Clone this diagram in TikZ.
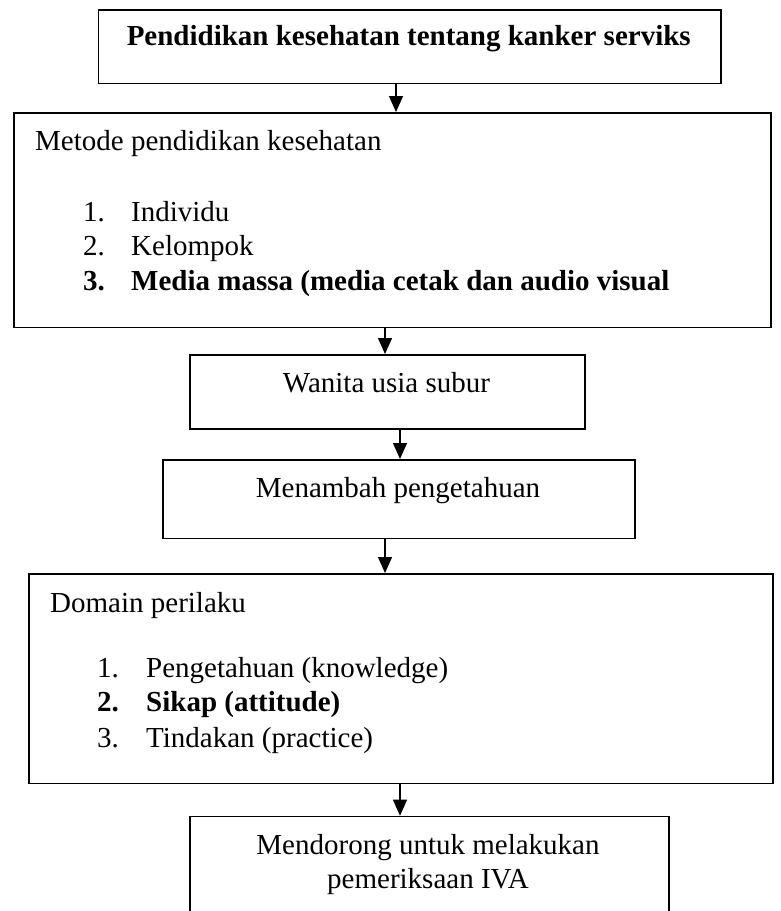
\documentclass[tikz,border=0pt]{standalone}
\usepackage{fontspec}
\setmainfont{Liberation Serif}
\usetikzlibrary{arrows.meta}
\newcommand\myfs{\fontsize{29}{33.5}\selectfont}
\begin{document}
\begin{tikzpicture}[x=1pt,y=-1pt,
  box/.style={draw, line width=1.6pt, inner sep=0pt, anchor=north west},
  arr/.style={line width=1.3pt, -{Triangle[length=16pt,width=14pt]}},
  txt/.style={inner sep=0pt, anchor=base west, font=\myfs},
  ctxt/.style={inner sep=0pt, anchor=base, font=\myfs}]
\useasboundingbox (0,0) rectangle (780,911);
% boxes
\node[box, minimum width=622.5pt, minimum height=73.5pt] (b1) at (97.5,9) {};
\node[box, minimum width=756.7pt, minimum height=214.7pt] (b2) at (13.3,112) {};
\node[box, minimum width=395pt, minimum height=74pt] (b3) at (189,354) {};
\node[box, minimum width=472pt, minimum height=78.7pt] (b4) at (162,459) {};
\node[box, minimum width=744pt, minimum height=209.7pt] (b5) at (28,573) {};
\node[box, minimum width=479pt, minimum height=110pt] (b6) at (189,815.7) {};
% texts
\node[ctxt] (t1) at (408.75,45) {\bfseries Pendidikan kesehatan tentang kanker serviks};
\node[txt] (t2) at (35,150) {Metode pendidikan kesehatan};
\node[txt] (t2n1) at (83,221) {1.};
\node[txt] (t2i1) at (131,221) {Individu};
\node[txt] (t2n2) at (83,255.5) {2.};
\node[txt] (t2i2) at (131,255.5) {Kelompok};
\node[txt] (t2n3) at (83,290) {\bfseries 3.};
\node[txt] (t2i3) at (131,290) {\bfseries Media massa (media cetak dan audio visual};
\node[ctxt] (t3) at (386.5,392) {Wanita usia subur};
\node[ctxt] (t4) at (398,497) {Menambah pengetahuan};
\node[txt] (t5) at (50,612) {Domain perilaku};
\node[txt] (t5n1) at (97,677) {1.};
\node[txt] (t5i1) at (146,677) {Pengetahuan (knowledge)};
\node[txt] (t5n2) at (97,711.5) {\bfseries 2.};
\node[txt] (t5i2) at (146,711.5) {\bfseries Sikap (attitude)};
\node[txt] (t5n3) at (97,747) {3.};
\node[txt] (t5i3) at (146,747) {Tindakan (practice)};
\node[ctxt] (t6a) at (428,854) {Mendorong untuk melakukan};
\node[ctxt] (t6b) at (428,888) {pemeriksaan IVA};
% arrows
\coordinate (xa) at (396,0);
\coordinate (xb) at (385,0);
\coordinate (xc) at (400,0);
\draw[arr] (b1.south -| xa) -- (b2.north -| xa);
\draw[arr] (b2.south -| xb) -- (b3.north -| xb);
\draw[arr] (b3.south -| xc) -- (b4.north -| xc);
\draw[arr] (b4.south -| xb) -- (b5.north -| xb);
\draw[arr] (b5.south -| xc) -- (b6.north -| xc);
\end{tikzpicture}
\end{document}
